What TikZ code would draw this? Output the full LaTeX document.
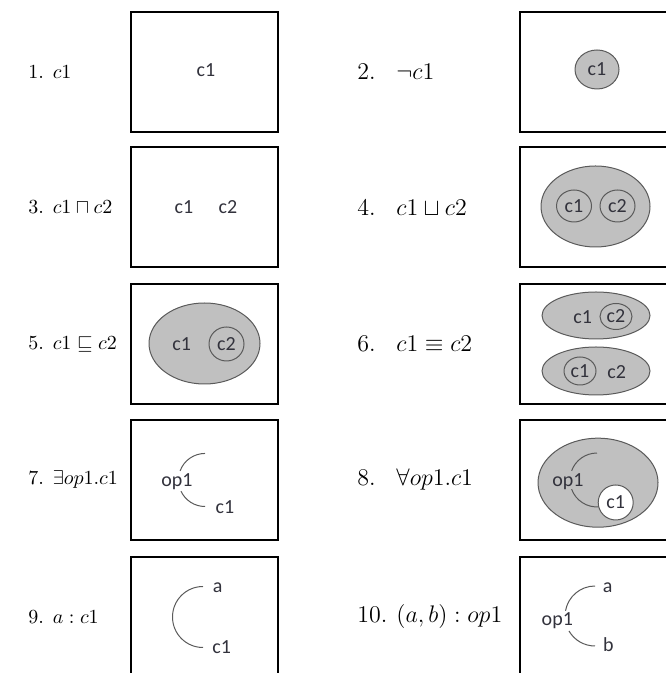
\documentclass[tikz,border=0pt]{standalone}
\usepackage{fontspec}
\newfontfamily\calib{Carlito}
\usetikzlibrary{shapes.geometric,positioning}
\definecolor{fillgray}{RGB}{192,192,192}
\definecolor{linegray}{RGB}{90,90,90}
\definecolor{inktext}{RGB}{50,50,60}
\newcommand{\nbox}[1]{\makebox[1.3em][l]{#1}}

\begin{document}
\begin{tikzpicture}[x=0.5pt,y=0.5pt,
  frame/.style={draw,line width=0.6pt,minimum width=73.5pt,minimum height=60pt,inner sep=0pt},
  lbl/.style={anchor=west,inner sep=0pt,font=\fontsize{10}{12}\selectfont},
  lblr/.style={lbl,font=\fontsize{12}{14}\selectfont},
  word/.style={font=\calib\fontsize{10}{12}\selectfont,text=inktext,inner sep=0pt},
  blob/.style={ellipse,draw=linegray,fill=fillgray,line width=0.5pt,inner sep=0pt},
  ring/.style={ellipse,draw=linegray,line width=0.5pt,word},
  role/.style={draw=linegray,line width=0.5pt}]
\useasboundingbox (0,0) rectangle (665,673);
\foreach \n/\x/\y in {1/204.5/601,2/593.5/601,3/204.5/466,4/593.5/466,5/204.5/329,
  6/593.5/329,7/204.5/193,8/593.5/193,9/204.5/56,10/593.5/56}
  \node[frame] (b\n) at (\x,\y) {};
\node[lbl] (l1) at (28,601) {1. $c1$};
\node[lbl] (l3) at (28,466) {3. $c1 \sqcap c2$};
\node[lbl] (l5) at (28,329) {5. $c1 \sqsubseteq c2$};
\node[lbl] (l7) at (28,193) {7. $\exists op1.c1$};
\node[lbl] (l9) at (28,56) {9. $a : c1$};
\node[lblr] (l2) at (357,601) {\nbox{2.} $\neg c1$};
\node[lblr] (l4) at (357,466) {\nbox{4.} $c1 \sqcup c2$};
\node[lblr] (l6) at (357,329) {\nbox{6.} $c1 \equiv c2$};
\node[lblr] (l8) at (357,193) {\nbox{8.} $\forall op1.c1$};
\node[lblr] (l10) at (357,56) {\nbox{10.} $(a,b) : op1$};
\node[word] (c1a) at (206,603) {c1};
\node[ring,fill=fillgray,minimum width=22pt,minimum height=19.5pt] (c1b) at (597,603.5) {c1};
\node[word] (c1c) at (184,466) {c1};
\node[word] (c2c) at (228,466) {c2};
\node[blob,minimum width=54.5pt,minimum height=40.5pt] (e4) at (595.5,466.5) {};
\node[ring,minimum width=17.5pt,minimum height=16pt] (c1d) at (574,467) {c1};
\node[ring,minimum width=17.5pt,minimum height=16pt] (c2d) at (617.5,467) {c2};
\node[blob,minimum width=55.5pt,minimum height=40.5pt] (e5) at (204.5,329.5) {};
\node[word] (c1e) at (181.7,329) {c1};
\node[ring,minimum width=17.5pt,minimum height=17pt] (c2e) at (226.5,329) {c2};
\node[blob,minimum width=54pt,minimum height=23.5pt] (e6u) at (596,357.5) {};
\node[word] (c1f) at (582.7,356.3) {c1};
\node[ring,minimum width=16pt,minimum height=13pt] (c2f) at (616,356.5) {c2};
\node[blob,minimum width=54pt,minimum height=24pt] (e6l) at (596,302) {};
\node[ring,minimum width=16pt,minimum height=14pt] (c1g) at (580,302) {c1};
\node[word] (c2g) at (616.7,301.3) {c2};
\node[word] (op7) at (177,191.3) {op1};
\node[word] (c1h) at (225,166.3) {c1};
\coordinate (u7) at (180.1,202.1);
\coordinate (d7) at (181,181.8);
\draw[role] (u7) arc[start angle=160,end angle=90,radius=26.5];
\draw[role] (d7) arc[start angle=205,end angle=270,radius=26.5];
\node[blob,minimum width=60pt,minimum height=44.5pt] (e8) at (598,190.3) {};
\node[word] (op8) at (568,191.3) {op1};
\coordinate (u8) at (571.6,202.2);
\coordinate (d8) at (571.6,183.8);
\draw[role] (u8) arc[start angle=160,end angle=90,radius=27];
\draw[role] (d8) arc[start angle=200,end angle=275,radius=27];
\node[ring,fill=white,minimum width=17.5pt,minimum height=17.5pt] (c1i) at (615.7,170.5) {c1};
\node[word] (a9) at (217.7,85.3) {a};
\node[word] (c1j) at (221.7,26.3) {c1};
\coordinate (u9) at (203,86.5);
\draw[role] (u9) arc[start angle=90,end angle=270,radius=30.5];
\node[word] (op10) at (557.3,52) {op1};
\node[word] (a10) at (607.7,85.3) {a};
\node[word] (b10) at (608.3,28) {b};
\coordinate (u10) at (565.5,62.2);
\coordinate (d10) at (569,42);
\draw[role] (u10) arc[start angle=170,end angle=90,radius=30];
\draw[role] (d10) arc[start angle=210,end angle=270,radius=30];
\end{tikzpicture}
\end{document}
